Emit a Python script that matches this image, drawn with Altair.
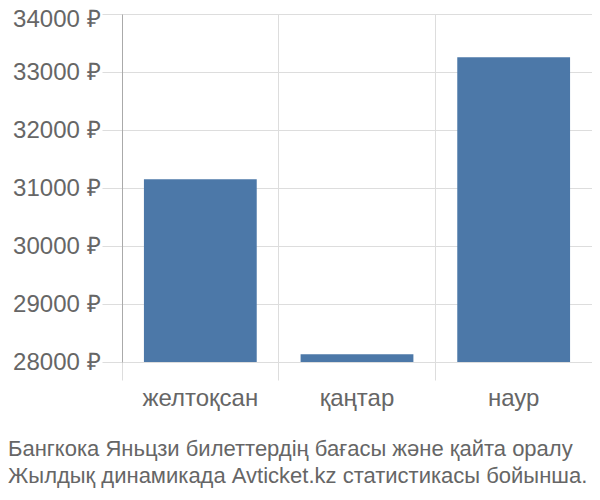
import altair as alt
import pandas as pd

months = ["желтоқсан", "қаңтар", "наур"]
prices = [31150, 28133, 33253]
y_ticks = [28000, 29000, 30000, 31000, 32000, 33000, 34000]
title_lines = [
    "Бангкока Яньцзи билеттердің бағасы және қайта оралу",
    "Жылдық динамикада Avticket.kz статистикасы бойынша.",
]

df = pd.DataFrame({"month": months, "price": prices})

FONT = "Liberation Sans"
GRAY = "#666666"
GRID = "#dddddd"

chart = alt.Chart(df).mark_bar(
    color="#4c78a8", width=alt.RelativeBandSize(0.72), clip=True
).encode(
    x=alt.X(
        "month:N",
        sort=months,
        title=None,
        scale=alt.Scale(paddingInner=0, paddingOuter=0),
        axis=alt.Axis(
            bandPosition=0,
            grid=True,
            gridColor=GRID,
            tickColor=GRID,
            tickSize=18,
            domain=False,
            labelAngle=0,
            labelFont=FONT,
            labelFontSize=24,
            labelColor=GRAY,
            labelPadding=6,
        ),
    ),
    y=alt.Y(
        "price:Q",
        title=None,
        scale=alt.Scale(domain=[28000, 34000], zero=False, nice=False),
        axis=alt.Axis(
            values=y_ticks,
            labelExpr="datum.value + ' ₽'",
            grid=True,
            gridColor=GRID,
            tickColor=GRID,
            tickSize=20,
            domainColor="#aaaaaa",
            labelFont=FONT,
            labelFontSize=24,
            labelColor=GRAY,
            labelPadding=2,
            labelOffset={"condition": {"test": "datum.value == 34000", "value": 5}, "value": 0},
        ),
    ),
).properties(
    width=470,
    height=348,
    padding={"left": 114, "top": 6, "right": 0, "bottom": 130},
    autosize=alt.AutoSizeParams(type="none"),
    title=alt.TitleParams(
        text=title_lines,
        orient="bottom",
        anchor="start",
        frame="group",
        font=FONT,
        fontSize=22,
        fontWeight="normal",
        color=GRAY,
        dx=-114,
        offset=29,
        lineHeight=27,
    ),
).configure_view(stroke=GRID)

chart.save("out.html", embed_options={"renderer": "svg", "actions": False})
